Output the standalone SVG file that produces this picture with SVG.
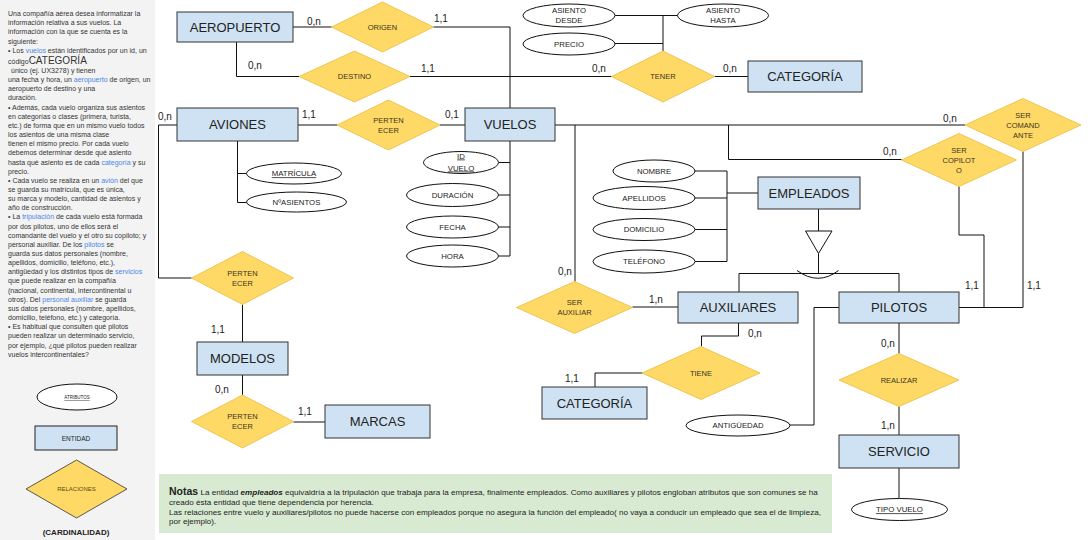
<svg xmlns="http://www.w3.org/2000/svg" width="1091" height="540" viewBox="0 0 1091 540">
<style>
text{font-family:"Liberation Sans",Arial,sans-serif;fill:#222}
.ent rect{fill:#cfe2f3;stroke:#333;stroke-width:1}
.ent text{font-size:13px;text-anchor:middle}
.rel polygon{fill:#ffd966;stroke:#e8bc3c;stroke-width:0.8}
.rel text{font-size:7.5px;text-anchor:middle;fill:#3a3320}
.att ellipse{fill:#fff;stroke:#111;stroke-width:1}
.att text{font-size:7.8px;text-anchor:middle}
.u{text-decoration:underline}
#connectors path{fill:none;stroke:#111;stroke-width:1}
.card{font-size:10px}
.side{font-size:7px;fill:#333}
.lk{fill:#4a86e8}
.nt{font-size:8.1px}
</style>
<rect x="0" y="0" width="1091" height="540" fill="#fff"/>
<g id="sidepanel">
<rect x="0" y="0" width="155" height="540" fill="#f3f3f3"/>
<text class="side" x="8" y="16">Una compañía aérea desea informatizar la</text>
<text class="side" x="8" y="25.2">información relativa a sus vuelos. La</text>
<text class="side" x="8" y="34.4">información con la que se cuenta es la</text>
<text class="side" x="8" y="43.6">siguiente:</text>
<text class="side" x="8" y="52.8">• Los <tspan class="lk">vuelos</tspan> están identificados por un id, un</text>
<text class="side" x="8" y="63.5">código<tspan style="font-size:10px">CATEGORÍA</tspan></text>
<text class="side" x="11" y="73">único (ej. UX3278) y tienen</text>
<text class="side" x="8" y="82.15">una fecha y hora, un <tspan class="lk">aeropuerto</tspan> de origen, un</text>
<text class="side" x="8" y="91.3">aeropuerto de destino y una</text>
<text class="side" x="8" y="100.45">duración.</text>
<text class="side" x="8" y="109.6">• Además, cada vuelo organiza sus asientos</text>
<text class="side" x="8" y="118.75">en categorías o clases (primera, turista,</text>
<text class="side" x="8" y="127.9">etc.) de forma que en un mismo vuelo todos</text>
<text class="side" x="8" y="137.05">los asientos de una misma clase</text>
<text class="side" x="8" y="146.2">tienen el mismo precio. Por cada vuelo</text>
<text class="side" x="8" y="155.35">debemos determinar desde qué asiento</text>
<text class="side" x="8" y="164.5">hasta qué asiento es de cada <tspan class="lk">categoría</tspan> y su</text>
<text class="side" x="8" y="173.65">precio.</text>
<text class="side" x="8" y="182.8">• Cada vuelo se realiza en un <tspan class="lk">avión</tspan> del que</text>
<text class="side" x="8" y="191.95">se guarda su matrícula, que es única,</text>
<text class="side" x="8" y="201.1">su marca y modelo, cantidad de asientos y</text>
<text class="side" x="8" y="210.25">año de construcción.</text>
<text class="side" x="8" y="219.4">• La <tspan class="lk">tripulación</tspan> de cada vuelo está formada</text>
<text class="side" x="8" y="228.55">por dos pilotos, uno de ellos será el</text>
<text class="side" x="8" y="237.7">comandante del vuelo y el otro su copiloto; y</text>
<text class="side" x="8" y="246.85">personal auxiliar. De los <tspan class="lk">pilotos</tspan> se</text>
<text class="side" x="8" y="256">guarda sus datos personales (nombre,</text>
<text class="side" x="8" y="265.15">apellidos, domicilio, teléfono, etc.),</text>
<text class="side" x="8" y="274.3">antigüedad y los distintos tipos de <tspan class="lk">servicios</tspan></text>
<text class="side" x="8" y="283.45">que puede realizar en la compañía</text>
<text class="side" x="8" y="292.6">(nacional, continental, intercontinental u</text>
<text class="side" x="8" y="301.75">otros). Del <tspan class="lk">personal auxiliar</tspan> se guarda</text>
<text class="side" x="8" y="310.9">sus datos personales (nombre, apellidos,</text>
<text class="side" x="8" y="320.05">domicilio, teléfono, etc.) y categoría.</text>
<text class="side" x="8" y="329.2">• Es habitual que consulten qué pilotos</text>
<text class="side" x="8" y="338.35">pueden realizar un determinado servicio,</text>
<text class="side" x="8" y="347.5">por ejemplo, ¿qué pilotos pueden realizar</text>
<text class="side" x="8" y="356.65">vuelos intercontinentales?</text>
</g>
<g id="legend">
<ellipse cx="77" cy="397" rx="40" ry="13" fill="#fff" stroke="#111"/>
<text x="77" y="399" style="font-size:4.5px;text-anchor:middle" class="u">ATRIBUTOS</text>
<rect x="35" y="426" width="82" height="24" fill="#cfe2f3" stroke="#222"/>
<text x="76" y="440.5" style="font-size:6.5px;text-anchor:middle">ENTIDAD</text>
<polygon points="26,489 76.5,460 127,489 76.5,518" fill="#ffd966" stroke="#333" stroke-width="0.8"/>
<text x="76.5" y="491" style="font-size:6px;text-anchor:middle;fill:#5a4a10">RELACIONES</text>
<text x="76" y="535" style="font-size:8px;font-weight:bold;text-anchor:middle">(CARDINALIDAD)</text>
</g>
<g id="connectors">
<path d="M293,27 H331.5"/>
<path d="M433.5,27 H510 V108"/>
<path d="M236.5,42 V76.5 H299"/>
<path d="M410,76.5 H611.5"/>
<path d="M714.5,76.5 H748"/>
<path d="M615,15.5 H677.5 M663,15.5 V51 M615,43.5 H663"/>
<path d="M298,125 H337"/>
<path d="M440,125 H465"/>
<path d="M177,125 H158.5 V278 H191.5"/>
<path d="M242.5,304.5 V342"/>
<path d="M242.5,375 V395"/>
<path d="M293.5,422 H325"/>
<path d="M237.5,141 V202.5 M237.5,173.5 H246.5 M237.5,202.5 H246.5"/>
<path d="M510,141 V256 M498.5,162.5 H510 M498.5,195 H510 M498.5,227 H510 M498.5,256 H510"/>
<path d="M555,125 H965"/>
<path d="M575,125 V281.5"/>
<path d="M728.5,125 V159.5 H901.5"/>
<path d="M1023,151.5 V307.5 H959"/>
<path d="M959,186.5 V235 H984 V307.5"/>
<path d="M632.5,307 H678"/>
<path d="M695,171 H727 V261.5 H695 M695,198 H727 M695,229.5 H727 M727,193 H758"/>
<path d="M818.5,209 V231"/>
<path d="M805.5,231 H832 L818.5,253.5 Z"/>
<path d="M818.5,253.5 V273.5"/>
<path d="M797,270.5 Q818.3,286 838.5,270.5"/>
<path d="M739,273.5 H899 M739,273.5 V292 M899,273.5 V292"/>
<path d="M738.5,323 V336 H701.5 V346.5"/>
<path d="M642,373 H595 V387"/>
<path d="M790,425 H814 V307.5 H839"/>
<path d="M899,323 V353.5 M899,406.5 V435 M899,468 V498.5"/>
</g>
<g id="cardinalities">
<text class="card" x="307" y="25">0,n</text>
<text class="card" x="434" y="22">1,1</text>
<text class="card" x="248" y="69">0,n</text>
<text class="card" x="421" y="72">1,1</text>
<text class="card" x="592" y="72">0,n</text>
<text class="card" x="723" y="72">0,n</text>
<text class="card" x="158" y="120">0,n</text>
<text class="card" x="302" y="118">1,1</text>
<text class="card" x="445" y="118">0,1</text>
<text class="card" x="943" y="122">0,n</text>
<text class="card" x="883" y="155">0,n</text>
<text class="card" x="558" y="275">0,n</text>
<text class="card" x="649" y="303">1,n</text>
<text class="card" x="748" y="337">0,n</text>
<text class="card" x="565" y="382">1,1</text>
<text class="card" x="965" y="289">1,1</text>
<text class="card" x="1027" y="289">1,1</text>
<text class="card" x="881" y="347">0,n</text>
<text class="card" x="881" y="429">1,n</text>
<text class="card" x="211" y="333">1,1</text>
<text class="card" x="215" y="393">0,n</text>
<text class="card" x="298" y="415">1,1</text>
</g>
<g id="aeropuerto" class="ent"><rect x="177" y="12" width="116" height="30"/><text x="235" y="31.5">AEROPUERTO</text></g>
<g id="categoria" class="ent"><rect x="748" y="61" width="114" height="31"/><text x="805" y="81">CATEGORÍA</text></g>
<g id="aviones" class="ent"><rect x="177" y="108" width="121" height="33"/><text x="237.5" y="129">AVIONES</text></g>
<g id="vuelos" class="ent"><rect x="465" y="108" width="90" height="33"/><text x="510" y="129">VUELOS</text></g>
<g id="empleados" class="ent"><rect x="758" y="177" width="102" height="32"/><text x="809" y="197.5">EMPLEADOS</text></g>
<g id="auxiliares" class="ent"><rect x="678" y="292" width="120" height="31"/><text x="738" y="312">AUXILIARES</text></g>
<g id="pilotos" class="ent"><rect x="839" y="292" width="120" height="31"/><text x="899" y="312">PILOTOS</text></g>
<g id="modelos" class="ent"><rect x="197" y="342" width="91" height="33"/><text x="242.5" y="363">MODELOS</text></g>
<g id="categoria2" class="ent"><rect x="542" y="387" width="105" height="32"/><text x="594.5" y="407.5">CATEGORÍA</text></g>
<g id="marcas" class="ent"><rect x="325" y="405" width="105" height="33"/><text x="377.5" y="426">MARCAS</text></g>
<g id="servicio" class="ent"><rect x="839" y="435" width="120" height="33"/><text x="899" y="456">SERVICIO</text></g>
<g id="origen" class="rel"><polygon points="331.5,27 382.5,2 433.5,27 382.5,52"/><text x="382.5" y="29.7">ORIGEN</text></g>
<g id="destino" class="rel"><polygon points="299,76.5 354.5,51 410,76.5 354.5,102"/><text x="354.5" y="79.2">DESTINO</text></g>
<g id="tener" class="rel"><polygon points="611.5,76.5 663,51 714.5,76.5 663,102"/><text x="663" y="79.2">TENER</text></g>
<g id="pertenecer1" class="rel"><polygon points="337,125 388.5,100 440,125 388.5,150"/><text x="388.5" y="122.5">PERTEN</text><text x="388.5" y="132.5">ECER</text></g>
<g id="sercomandante" class="rel"><polygon points="965,125 1023,98.5 1081,125 1023,151.5"/><text x="1023" y="117.5">SER</text><text x="1023" y="127.5">COMAND</text><text x="1023" y="137.5">ANTE</text></g>
<g id="sercopiloto" class="rel"><polygon points="901.5,160 959,133.5 1016.5,160 959,186.5"/><text x="959" y="152.5">SER</text><text x="959" y="162.5">COPILOT</text><text x="959" y="172.5">O</text></g>
<g id="pertenecer2" class="rel"><polygon points="191.5,278 242.5,251.5 293.5,278 242.5,304.5"/><text x="242.5" y="275.5">PERTEN</text><text x="242.5" y="285.5">ECER</text></g>
<g id="pertenecer3" class="rel"><polygon points="191.5,421.5 242.5,395 293.5,421.5 242.5,448"/><text x="242.5" y="419">PERTEN</text><text x="242.5" y="429">ECER</text></g>
<g id="serauxiliar" class="rel"><polygon points="516.5,307.5 574.5,281.5 632.5,307.5 574.5,333.5"/><text x="574.5" y="305">SER</text><text x="574.5" y="315">AUXILIAR</text></g>
<g id="tiene" class="rel"><polygon points="642,373 701,346.5 760,373 701,399.5"/><text x="701" y="375.7">TIENE</text></g>
<g id="realizar" class="rel"><polygon points="839,380 899,353.5 959,380 899,406.5"/><text x="899" y="382.7">REALIZAR</text></g>
<g id="asientodesde" class="att"><ellipse cx="569" cy="15.5" rx="46" ry="11.5"/><text x="569" y="13.3">ASIENTO</text><text x="569" y="23.3">DESDE</text></g>
<g id="asientohasta" class="att"><ellipse cx="723" cy="15.5" rx="45.5" ry="11.5"/><text x="723" y="13.3">ASIENTO</text><text x="723" y="23.3">HASTA</text></g>
<g id="precio" class="att"><ellipse cx="569" cy="44" rx="46" ry="11"/><text x="569" y="46.8">PRECIO</text></g>
<g id="matricula" class="att"><ellipse cx="294" cy="173.5" rx="47.5" ry="10.5"/><text x="294" y="176.3" class="u">MATRÍCULA</text></g>
<g id="nasientos" class="att"><ellipse cx="296.5" cy="202" rx="50" ry="10"/><text x="296.5" y="204.8">NºASIENTOS</text></g>
<g id="idvuelo" class="att"><ellipse cx="461" cy="162.5" rx="37.5" ry="11"/><text x="461" y="158.5" class="u">ID</text><text x="461" y="170.5" class="u">VUELO</text></g>
<g id="duracion" class="att"><ellipse cx="452.5" cy="195" rx="46" ry="11.5"/><text x="452.5" y="197.8">DURACIÓN</text></g>
<g id="fecha" class="att"><ellipse cx="452.5" cy="227" rx="46" ry="11"/><text x="452.5" y="229.8">FECHA</text></g>
<g id="hora" class="att"><ellipse cx="452.5" cy="256" rx="46" ry="11"/><text x="452.5" y="258.8">HORA</text></g>
<g id="nombre" class="att"><ellipse cx="654" cy="171" rx="41" ry="11"/><text x="654" y="173.8">NOMBRE</text></g>
<g id="apellidos" class="att"><ellipse cx="644" cy="198" rx="51" ry="11.5"/><text x="644" y="200.8">APELLIDOS</text></g>
<g id="domicilio" class="att"><ellipse cx="644" cy="229.5" rx="51" ry="11"/><text x="644" y="232.3">DOMICILIO</text></g>
<g id="telefono" class="att"><ellipse cx="644" cy="261.5" rx="51" ry="11.5"/><text x="644" y="264.3">TELÉFONO</text></g>
<g id="antiguedad" class="att"><ellipse cx="738" cy="425.5" rx="52" ry="10.5"/><text x="738" y="428.3">ANTIGÜEDAD</text></g>
<g id="tipovuelo" class="att"><ellipse cx="899.5" cy="509.5" rx="48" ry="11"/><text x="899.5" y="512.3" class="u">TIPO VUELO</text></g>
<g id="notas">
<rect x="159" y="474" width="673" height="59" fill="#d9ead3"/>
<text class="nt" x="169" y="494.5"><tspan style="font-size:10.5px;font-weight:bold">Notas</tspan> La entidad <tspan style="font-weight:bold;font-style:italic">empleados</tspan> equivaldría a la tripulación que trabaja para la empresa, finalmente empleados. Como auxiliares y pilotos engloban atributos que son comunes se ha</text>
<text class="nt" x="169" y="504.5">creado ésta entidad que tiene dependencia por herencia.</text>
<text class="nt" x="169" y="514.5">Las relaciones entre vuelo y auxiliares/pilotos no puede hacerse con empleados porque no asegura la función del empleado( no vaya a conducir un empleado que sea el de limpieza,</text>
<text class="nt" x="169" y="524">por ejemplo).</text>
</g>
</svg>
